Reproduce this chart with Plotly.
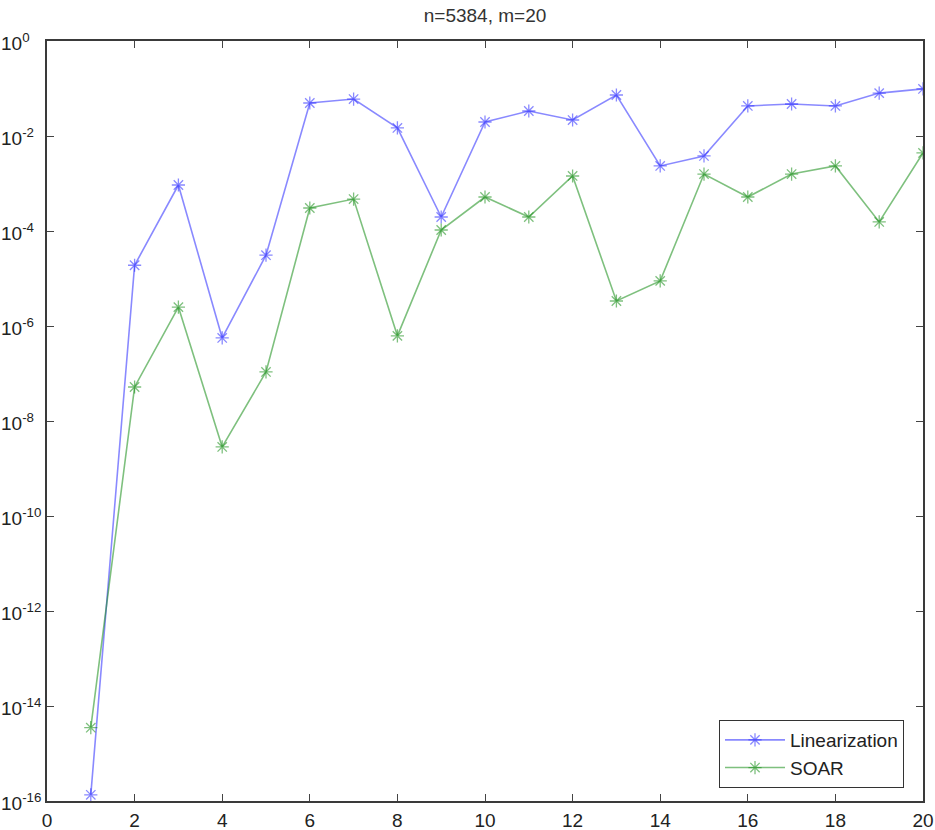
import plotly.graph_objects as go

# Iteration index and error histories for the two methods
iterations = list(range(1, 21))
linearization = [1.35e-16, 1.9e-5, 9.3e-4, 5.6e-7, 3.1e-5, 0.0495, 0.060, 0.0148,
                 1.97e-4, 0.0197, 0.0336, 0.0217, 0.073, 0.00234, 0.0038, 0.0429,
                 0.0472, 0.0429, 0.080, 0.098]
soar = [3.5e-15, 5.2e-8, 2.5e-6, 2.84e-9, 1.08e-7, 3.05e-4, 4.7e-4, 6.2e-7,
        1.05e-4, 5.2e-4, 1.97e-4, 1.44e-3, 3.36e-6, 8.9e-6, 1.58e-3, 5.2e-4,
        1.58e-3, 2.34e-3, 1.55e-4, 4.4e-3]

x_ticks = list(range(0, 21, 2))
y_exponents = list(range(0, -17, -2))
title_text = "n=5384, m=20"

FONT = "Liberation Sans, Arial, sans-serif"
FS = 19
W, H = 935, 830
ML, MR, MT, MB = 47, 12, 41, 29
plot_w = W - ML - MR
plot_h = H - MT - MB

fig = go.Figure()
fig.add_trace(go.Scatter(
    x=iterations, y=linearization, name="Linearization",
    mode="lines+markers",
    line=dict(color="rgba(40,40,255,0.55)", width=1.6),
    marker=dict(symbol="asterisk-open", size=11,
                line=dict(color="rgba(30,30,255,0.85)", width=1.3)),
))
fig.add_trace(go.Scatter(
    x=iterations, y=soar, name="SOAR",
    mode="lines+markers",
    line=dict(color="rgba(20,140,20,0.55)", width=1.6),
    marker=dict(symbol="asterisk-open", size=11,
                line=dict(color="rgba(10,130,10,0.85)", width=1.3)),
))

axis_common = dict(
    showline=True, linecolor="#3a3a3a", linewidth=1.8, mirror="ticks",
    ticks="inside", ticklen=7, tickwidth=1, tickcolor="#444",
    showgrid=False, zeroline=False, automargin=False,
)

fig.update_xaxes(
    range=[0, 20], tickvals=x_ticks, ticktext=[str(v) for v in x_ticks],
    tickfont=dict(family=FONT, size=FS, color="#222"),
    ticklabelstandoff=1,
    **axis_common,
)
fig.update_yaxes(
    type="log", range=[-16, 0], tickvals=[10.0 ** e for e in y_exponents],
    showticklabels=False,
    **axis_common,
)

# Power-of-ten labels on the y axis, left aligned at the page edge
for e in y_exponents:
    fig.add_annotation(
        x=-(ML + 1) / plot_w, xref="paper", xanchor="left",
        y=e, yref="y", yanchor="middle", yshift=-1,
        text=f"10<sup>{e}</sup>", showarrow=False,
        font=dict(family=FONT, size=FS, color="#222"),
    )

fig.update_layout(
    width=W, height=H, autosize=False,
    margin=dict(l=ML, r=MR, t=MT, b=MB, pad=0, autoexpand=False),
    paper_bgcolor="white", plot_bgcolor="white",
    title=dict(text=title_text, x=(ML + plot_w / 2) / W, xanchor="center",
               y=1 - 15 / H, yanchor="middle",
               font=dict(family=FONT, size=FS, color="#333")),
    showlegend=True,
    legend=dict(
        x=(904 - ML) / plot_w, xanchor="right",
        y=(801 - 788) / plot_h, yanchor="bottom",
        bgcolor="white", bordercolor="#333", borderwidth=1,
        font=dict(family=FONT, size=FS, color="#222"),
        tracegroupgap=0, itemwidth=60,
    ),
)

fig.write_html("out.html")
